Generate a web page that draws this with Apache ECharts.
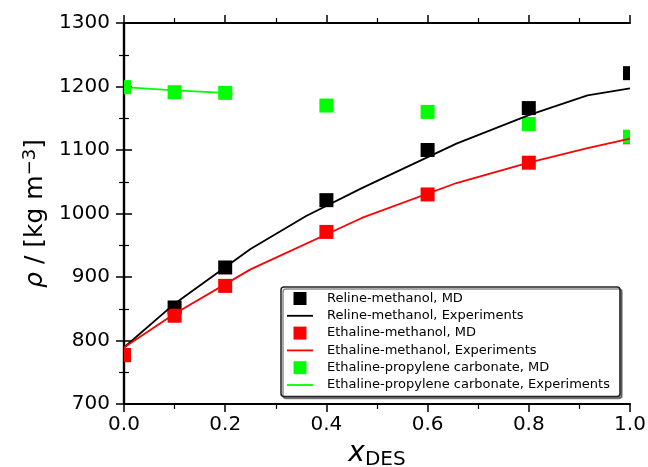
<!DOCTYPE html>
<html lang="en">
<head>
    <meta charset="UTF-8">
    <title>Density vs x_DES</title>
    <script src="https://cdn.jsdelivr.net/npm/echarts@6/dist/echarts.min.js"></script>
</head>
<body style="margin:0">
<div id="chartBox" style="width: 648px; height: 467px;"></div>
</body>
<script>
    // MD points (same mole fractions for all three systems)
    var xMD = [0, 0.1, 0.2, 0.4, 0.6, 0.8, 1.0];
    var relineMD = [777, 852, 915, 1021, 1100, 1166, 1221];
    var ethalineMD = [777, 839, 886, 971, 1030, 1080, 1120];
    var epcMD = [1199, 1191, 1190, 1170, 1160, 1141, 1121];

    // experimental curves
    var relineExpX = [0, 0.1, 0.25, 0.36, 0.47, 0.657, 0.8, 0.916, 1.0];
    var relineExpY = [789, 858, 944, 996, 1040, 1110, 1155, 1186, 1197];
    var ethalineExpX = [0, 0.1, 0.25, 0.47, 0.657, 0.8, 0.916, 1.0];
    var ethalineExpY = [789, 842, 912, 993, 1048, 1080, 1103, 1118];
    var epcExpX = [0, 0.1, 0.2, 0.215];
    var epcExpY = [1199, 1194, 1190, 1188];

    var names = [
        'Reline-methanol, MD',
        'Reline-methanol, Experiments',
        'Ethaline-methanol, MD',
        'Ethaline-methanol, Experiments',
        'Ethaline-propylene carbonate, MD',
        'Ethaline-propylene carbonate, Experiments'
    ];

    function pairs(xs, ys) {
        var res = [];
        for (var i = 0; i < xs.length; i++) {
            res.push([xs[i], ys[i]]);
        }
        return res;
    }

    // icons sit in a 2:1 box so the legend does not stretch them
    var squareIcon = 'path://M0,0M2,1M0.5,0L1.5,0L1.5,1L0.5,1Z';
    var lineIcon = 'path://M0,0M2,1M0,0.43L2,0.43L2,0.57L0,0.57Z';

    var font = 'DejaVu Sans';
    var markSize = 14;
    var chart = echarts.init(document.getElementById('chartBox'));

    // squares are drawn by a custom series so they get cut at the frame like the original
    function mdSeries(name, ys, color) {
        return {
            name: name,
            type: 'custom',
            data: pairs(xMD, ys),
            clip: true,
            itemStyle: {color: color},
            renderItem: function (params, api) {
                var p = api.coord([api.value(0), api.value(1)]);
                return {
                    type: 'rect',
                    shape: {x: p[0] - markSize / 2, y: p[1] - markSize / 2, width: markSize, height: markSize},
                    style: {fill: color}
                };
            },
            emphasis: {disabled: true}
        };
    }

    function expSeries(name, xs, ys, color) {
        return {
            name: name,
            type: 'line',
            data: pairs(xs, ys),
            symbol: 'none',
            clip: true,
            lineStyle: {color: color, width: 1.8},
            itemStyle: {color: color},
            emphasis: {disabled: true}
        };
    }

    var axisCommon = {
        axisLine: {show: true, lineStyle: {color: '#000', width: 2.2}},
        axisTick: {show: true, inside: false, length: 8, lineStyle: {color: '#000', width: 1.5}},
        minorTick: {show: true, splitNumber: 2, length: 5, lineStyle: {color: '#000', width: 1.2}},
        splitLine: {show: false}
    };

    var option = {
        backgroundColor: '#fff',
        animation: false,
        grid: {left: 124, right: 18, top: 23, bottom: 63, outerBoundsMode: 'none'},
        xAxis: [
            Object.assign({
                type: 'value', position: 'bottom', min: 0, max: 1, interval: 0.2,
                axisLabel: {
                    fontFamily: font, fontSize: 20, color: '#000', margin: 11,
                    formatter: function (v) { return v.toFixed(1); }
                },
                name: '{x|x}{sub|DES}',
                nameLocation: 'middle',
                nameGap: 34,
                nameTextStyle: {
                    rich: {
                        x: {fontFamily: font, fontSize: 28, fontStyle: 'italic', color: '#000'},
                        sub: {fontFamily: font, fontSize: 20, color: '#000', padding: [12, 0, 0, 0]}
                    }
                }
            }, axisCommon),
            Object.assign({
                type: 'value', position: 'top', min: 0, max: 1, interval: 0.2,
                axisLabel: {show: false}
            }, axisCommon)
        ],
        yAxis: [
            Object.assign({
                type: 'value', position: 'left', min: 700, max: 1300, interval: 100,
                axisLabel: {
                    fontFamily: font, fontSize: 20, color: '#000', margin: 14,
                    formatter: function (v) { return String(v); }
                },
                name: '{r|ρ}{t| / [kg m}{sup|−3}{t|]}',
                nameLocation: 'middle',
                nameGap: 70,
                nameRotate: 90,
                nameTextStyle: {
                    rich: {
                        r: {fontFamily: font, fontSize: 25, fontStyle: 'italic', color: '#000'},
                        t: {fontFamily: font, fontSize: 25, color: '#000'},
                        sup: {fontFamily: font, fontSize: 18, color: '#000', verticalAlign: 'top', padding: [0, 0, 10, 0]}
                    }
                }
            }, axisCommon),
            Object.assign({
                type: 'value', position: 'right', min: 700, max: 1300, interval: 100,
                axisLabel: {show: false}
            }, axisCommon)
        ],
        legend: {
            orient: 'vertical',
            left: 281,
            top: 287,
            padding: [5, 10, 5, 6],
            itemWidth: 28,
            itemHeight: 13,
            itemGap: 4.3,
            backgroundColor: '#fff',
            borderColor: '#222',
            borderWidth: 1.5,
            borderRadius: 3,
            shadowColor: 'rgba(0,0,0,0.45)',
            shadowOffsetX: 2,
            shadowOffsetY: 2,
            shadowBlur: 0,
            selectedMode: false,
            textStyle: {fontFamily: font, fontSize: 13, color: '#000', padding: [0, 0, 0, 8]},
            data: [
                {name: names[0], icon: squareIcon},
                {name: names[1], icon: lineIcon},
                {name: names[2], icon: squareIcon},
                {name: names[3], icon: lineIcon},
                {name: names[4], icon: squareIcon},
                {name: names[5], icon: lineIcon}
            ]
        },
        series: [
            mdSeries(names[0], relineMD, '#000000'),
            expSeries(names[1], relineExpX, relineExpY, '#000000'),
            mdSeries(names[2], ethalineMD, '#ff0000'),
            expSeries(names[3], ethalineExpX, ethalineExpY, '#ff0000'),
            mdSeries(names[4], epcMD, '#00ff00'),
            expSeries(names[5], epcExpX, epcExpY, '#00ff00')
        ]
    };

    chart.setOption(option);
</script>
</html>
